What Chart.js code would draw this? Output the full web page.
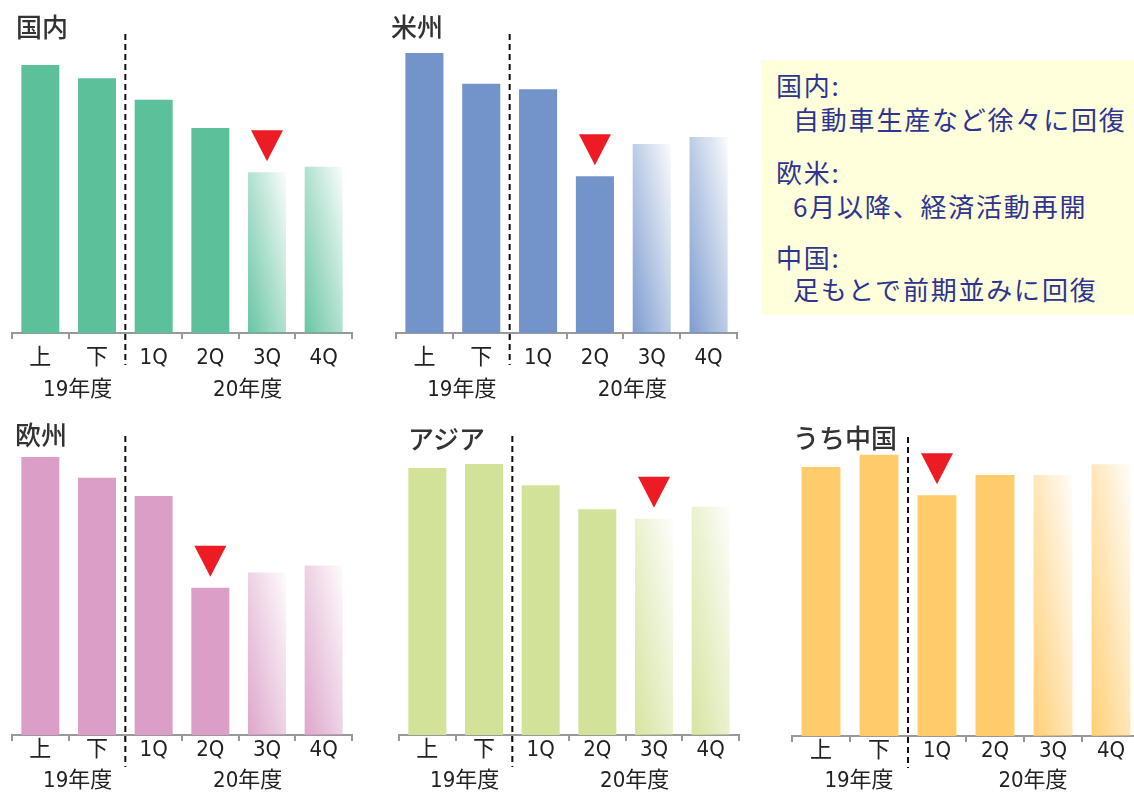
<!DOCTYPE html>
<html lang="ja">
<head>
<meta charset="utf-8">
<script src="https://cdn.jsdelivr.net/npm/chart.js@4/dist/chart.umd.min.js"></script>
<style>
  html, body { margin: 0; padding: 0; background: #fff; overflow: hidden; }
  body { width: 1134px; height: 792px; position: relative; font-family: 'Noto Sans CJK JP', sans-serif; }
  canvas { position: absolute; }
  .ttl { position: absolute; font-size: 26px; line-height: 26px; color: #333; font-weight: 500; white-space: nowrap; }
  #note { position: absolute; left: 761px; top: 60px; width: 373px; height: 255px; background: #ffffdc; }
  #note div { position: absolute; font-size: 26px; line-height: 26px; letter-spacing: 1.8px; color: #2e3590; white-space: nowrap; }
</style>
</head>
<body>
<canvas id="c1" width="380" height="403" style="left:0;top:0"></canvas>
<canvas id="c2" width="380" height="403" style="left:380px;top:0"></canvas>
<canvas id="c3" width="380" height="403" style="left:0;top:402px"></canvas>
<canvas id="c4" width="380" height="403" style="left:380px;top:402px"></canvas>
<canvas id="c5" width="400" height="403" style="left:760px;top:403px"></canvas>

<div class="ttl" style="left:16px;top:13px">国内</div>
<div class="ttl" style="left:391px;top:13px">米州</div>
<div class="ttl" style="left:15px;top:421px">欧州</div>
<div class="ttl" style="left:408px;top:425px">アジア</div>
<div class="ttl" style="left:793px;top:424px">うち中国</div>

<div id="note">
  <div style="left:15px;top:12px">国内:</div>
  <div style="left:32px;top:46px">自動車生産など徐々に回復</div>
  <div style="left:15px;top:99px">欧米:</div>
  <div style="left:32px;top:133px">6月以降、経済活動再開</div>
  <div style="left:15px;top:184px">中国:</div>
  <div style="left:32px;top:216px">足もとで前期並みに回復</div>
</div>

<script>
// 区分と期
const categories = ['上', '下', '1Q', '2Q', '3Q', '4Q'];
const groupLabels = ['19年度', '20年度'];
const groupFirst = [0, 2];
const groupLast = [1, 5];
const forecast = [false, false, false, false, true, true]; // 見通し（グラデーション）

// 19年度上期 = 100 とした指数
const domestic = [100, 95, 87, 76.5, 60, 62];
const americas = [100, 89, 87, 56, 67.5, 70];
const europe = [100, 92.5, 86, 53, 58.5, 61];
const asia = [100, 101.5, 93.5, 84.5, 81, 85.5];
const china = [100, 104.5, 89.5, 97, 97, 101];

const BAR_PCT = 0.67;
const FONT = "'DejaVu Sans Condensed', 'Liberation Sans Narrow', 'Noto Sans CJK JP', sans-serif";

function rgba(c, a) {
  return 'rgba(' + c[0] + ',' + c[1] + ',' + c[2] + ',' + a + ')';
}

// 見通しの棒は左下から右上へ薄くなる
function barFill(c3) {
  const solid = rgba(c3, 1);
  return ctx => {
    const chart = ctx.chart;
    const area = chart.chartArea;
    if (!forecast[ctx.dataIndex] || !area) return solid;
    const x = chart.scales.x, y = chart.scales.y;
    const w = x.width / categories.length * BAR_PCT;
    const x0 = x.getPixelForValue(ctx.dataIndex) - w / 2;
    const yb = y.getPixelForValue(0);
    const h = yb - y.getPixelForValue(ctx.raw);
    const t = 2 * w * h / (w * w + h * h);
    const g = chart.ctx.createLinearGradient(x0, yb, x0 + t * h, yb - t * w);
    g.addColorStop(0, rgba(c3, 0.92));
    g.addColorStop(1, rgba(c3, 0.04));
    return g;
  };
}

// 区切り線・底マーク・年度ラベル
const overlay = {
  id: 'overlay',
  afterDraw(chart, args, opts) {
    const { ctx, chartArea } = chart;
    const x = chart.scales.x, y = chart.scales.y;
    const vals = chart.data.datasets[0].data;
    ctx.save();

    const split = groupFirst[1];
    const xd = (x.getPixelForValue(split - 1) + x.getPixelForValue(split)) / 2;
    ctx.setLineDash([6, 4]);
    ctx.lineWidth = 2;
    ctx.strokeStyle = '#111';
    ctx.beginPath();
    ctx.moveTo(xd, chartArea.top - 6);
    ctx.lineTo(xd, chartArea.bottom + 32);
    ctx.stroke();
    ctx.setLineDash([]);

    const lo = vals.indexOf(Math.min(...vals));
    const xm = x.getPixelForValue(lo);
    const ym = y.getPixelForValue(vals[lo]) - 11;
    ctx.fillStyle = '#ed1c24';
    ctx.beginPath();
    ctx.moveTo(xm, ym);
    ctx.lineTo(xm - 16, ym - 31);
    ctx.lineTo(xm + 16, ym - 31);
    ctx.closePath();
    ctx.fill();

    ctx.font = '22px ' + FONT;
    ctx.fillStyle = '#222';
    ctx.textAlign = 'center';
    ctx.textBaseline = 'middle';
    groupLabels.forEach((lab, i) => {
      const xc = (x.getPixelForValue(groupFirst[i]) + x.getPixelForValue(groupLast[i])) / 2 + 9;
      ctx.fillText(lab, xc, chartArea.bottom + opts.groupDy);
    });
    ctx.restore();
  }
};

function makeChart(id, values, color, yMax, padL, padR, tickPad, groupDy) {
  new Chart(document.getElementById(id), {
    type: 'bar',
    data: {
      labels: categories,
      datasets: [{
        data: values,
        backgroundColor: barFill(color),
        borderWidth: 0,
        barPercentage: BAR_PCT,
        categoryPercentage: 1
      }]
    },
    options: {
      responsive: false,
      animation: false,
      devicePixelRatio: 1,
      layout: { padding: { top: 40, left: padL, right: padR, bottom: 0 } },
      plugins: {
        legend: { display: false },
        tooltip: { enabled: false },
        overlay: { groupDy: groupDy }
      },
      scales: {
        x: {
          grid: { display: true, drawOnChartArea: false, drawTicks: true, tickLength: 6, color: '#999', lineWidth: 2, offset: true },
          border: { display: true, color: '#999', width: 2 },
          ticks: { color: '#222', font: { size: 22, family: FONT, lineHeight: 1 }, padding: tickPad, maxRotation: 0, autoSkip: false },
          afterFit: s => { s.height = 70; }
        },
        y: { display: false, min: 0, max: yMax }
      }
    },
    plugins: [overlay]
  });
}

makeChart('c1', domestic, [92, 192, 155], 109.3, 12, 28, 8, 57);
makeChart('c2', americas, [115, 148, 203], 104.6, 16, 23, 8, 57);
makeChart('c3', europe, [219, 159, 199], 105.4, 12, 28, -2, 46);
makeChart('c4', asia, [210, 226, 152], 109.7, 19, 21, -2, 46);
makeChart('c5', china, [255, 203, 107], 108.9, 32, 20, -2, 45);
</script>
</body>
</html>
